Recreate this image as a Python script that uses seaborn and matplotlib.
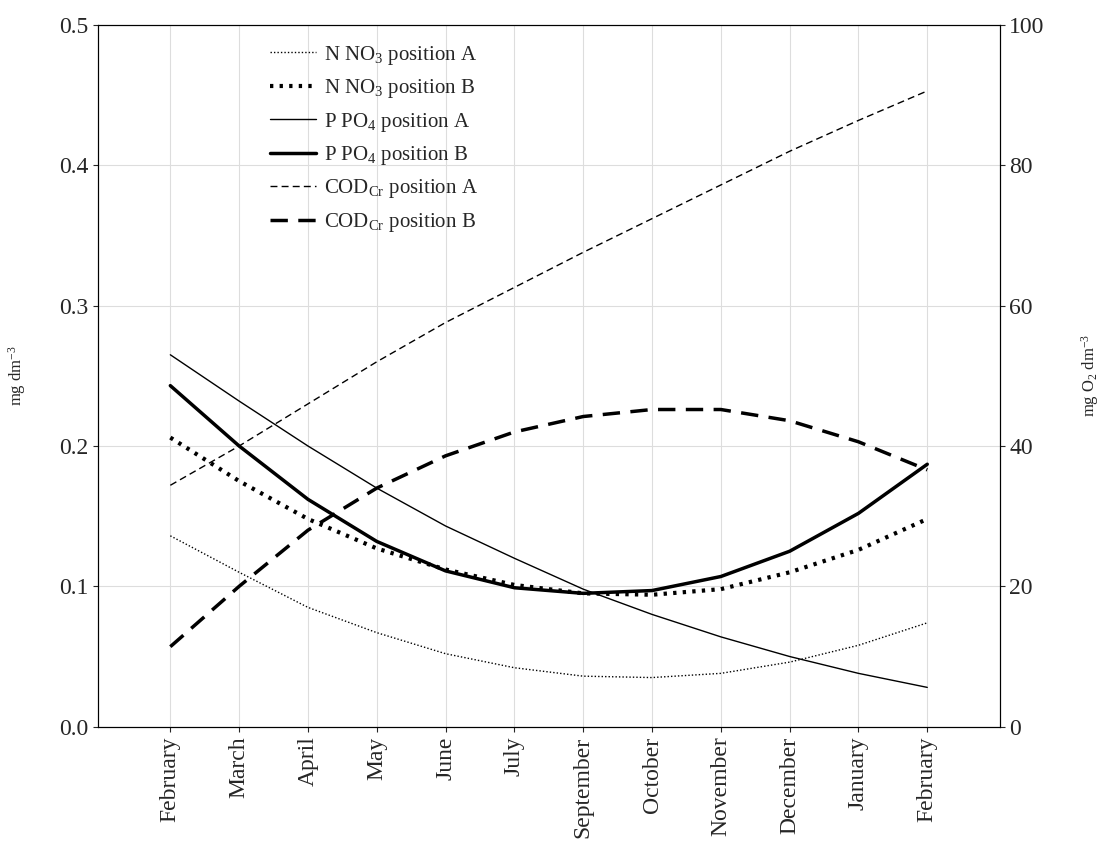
import numpy as np
import matplotlib
matplotlib.use("Agg")
import matplotlib.pyplot as plt
import seaborn as sns

months = ["February", "March", "April", "May", "June", "July", "September",
          "October", "November", "December", "January", "February"]

no3_a = [0.136, 0.110, 0.085, 0.067, 0.052, 0.042, 0.036, 0.035, 0.038, 0.046, 0.058, 0.074]
no3_b = [0.206, 0.175, 0.148, 0.127, 0.112, 0.101, 0.095, 0.094, 0.098, 0.110, 0.126, 0.148]
po4_a = [0.265, 0.232, 0.200, 0.170, 0.143, 0.120, 0.098, 0.080, 0.064, 0.050, 0.038, 0.028]
po4_b = [0.243, 0.200, 0.162, 0.132, 0.111, 0.099, 0.095, 0.097, 0.107, 0.125, 0.152, 0.187]
cod_a = [34.4, 40.0, 46.0, 52.0, 57.6, 62.6, 67.6, 72.4, 77.2, 82.0, 86.4, 90.6]
cod_b = [11.4, 20.0, 28.0, 34.0, 38.6, 42.0, 44.2, 45.2, 45.2, 43.6, 40.6, 36.6]

sns.set_style("ticks")
plt.rcParams['font.family'] = ['Liberation Serif', 'DejaVu Serif']
plt.rcParams['mathtext.fontset'] = 'stix'

x = np.arange(len(months))
fig = plt.figure(figsize=(11.02, 8.61), dpi=100)
ax = fig.add_axes([0.089, 0.156, 0.818, 0.815])
ax2 = ax.twinx()

h = []
h += ax.plot(x, no3_a, color='black', lw=1, ls=(0, (1, 1.5)), label=r'N NO$\mathregular{_3}$ position A')
h += ax.plot(x, no3_b, color='black', lw=3, ls=(0, (0.8, 1.5)), label=r'N NO$\mathregular{_3}$ position B')
h += ax.plot(x, po4_a, color='black', lw=1, label=r'P PO$\mathregular{_4}$ position A')
h += ax.plot(x, po4_b, color='black', lw=2.5, label=r'P PO$\mathregular{_4}$ position B')
h += ax2.plot(x, cod_a, color='black', lw=1, ls=(0, (5, 3)), label=r'COD$\mathregular{_{Cr}}$ position A')
h += ax2.plot(x, cod_b, color='black', lw=2.5, ls=(0, (5, 3)), label=r'COD$\mathregular{_{Cr}}$ position B')

ax.set_xlim(-1.05, 12.05)
ax.set_ylim(0, 0.5)
ax2.set_ylim(0, 100)
ax.set_xticks(x)
ax.set_xticklabels(months, rotation=90, fontsize=17)
ax.set_yticks(np.arange(0, 0.51, 0.1))
ax.set_yticklabels([f"{v:.1f}" for v in np.arange(0, 0.51, 0.1)], fontsize=17)
ax2.set_yticks(np.arange(0, 101, 20))
ax2.tick_params(labelsize=17)
ax.grid(True, color='#dddddd', lw=0.8)
ax.set_ylabel(r'mg dm$\mathregular{^{-3}}$', fontsize=12, labelpad=22)
ax2.set_ylabel(r'mg O$\mathregular{_2}$ dm$\mathregular{^{-3}}$', fontsize=12, labelpad=25)
for a in (ax, ax2):
    for s in a.spines.values():
        s.set_color('black')

ax.legend(handles=h, loc='upper left', bbox_to_anchor=(0.17, 1.0), frameon=False,
          fontsize=15, handlelength=2.2, labelspacing=0.5, handletextpad=0.4)

fig.savefig("out.png", dpi=100)
